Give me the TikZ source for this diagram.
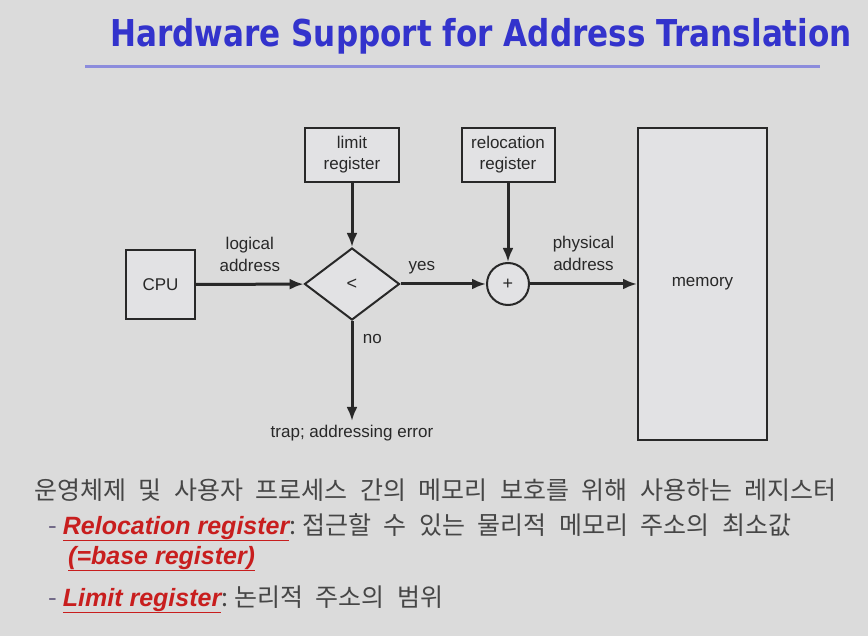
\documentclass[tikz,border=0pt]{standalone}
\usepackage{fontspec}
\setmainfont{Liberation Sans}
\newfontfamily\titlefont[FakeStretch=0.84]{DejaVu Sans}
\newfontfamily\korfont{Noto Sans CJK KR}
\usetikzlibrary{arrows.meta,shapes.geometric}

\definecolor{slidebg}{RGB}{219,219,219}
\definecolor{boxfill}{RGB}{226,226,228}
\definecolor{inkgrey}{RGB}{40,40,40}
\definecolor{titleblue}{RGB}{51,51,204}
\definecolor{rulelav}{RGB}{140,140,220}
\definecolor{noteRed}{RGB}{200,30,30}
\definecolor{notegrey}{RGB}{70,70,70}
\definecolor{dashgrey}{RGB}{100,90,125}

\newcommand{\korwide}{\spaceskip=12.5pt\relax}
\newcommand{\hotword}[1]{{\spaceskip=0pt\relax\rmfamily\fontsize{25}{28}\selectfont\bfseries\itshape\color{noteRed}\underline{#1}}}
\newcommand{\notedash}{\textcolor{dashgrey}{-}\hspace{6pt}}

\begin{document}
\begin{tikzpicture}[x=1pt,y=-1pt,
box/.style={draw=inkgrey,fill=boxfill,line width=2pt,align=center,font=\fontsize{17}{21}\selectfont,text=inkgrey},
test/.style={diamond,draw=inkgrey,fill=boxfill,line width=2pt,minimum width=95pt,minimum height=72pt,inner sep=0pt,aspect=1.3},
adder/.style={circle,draw=inkgrey,fill=boxfill,line width=2pt,minimum size=42pt,inner sep=0pt},
arrowlabel/.style={font=\fontsize{17}{22}\selectfont,align=center,text=inkgrey},
arrow/.style={-{Latex[length=14pt,width=11pt]},line width=3pt,draw=inkgrey},
note/.style={anchor=base west,inner sep=0pt,font=\korfont\fontsize{25}{28}\selectfont,text=notegrey} ]

\useasboundingbox (0,0) rectangle (868,636);

\fill[slidebg] (0,0) rectangle (868,636);

% title
\node[text=titleblue,font=\titlefont\bfseries\fontsize{37}{42}\selectfont](title) at (481,36) {Hardware Support for Address Translation};

\draw[rulelav,line width=3pt] (85,67) -- (820,67);

% diagram
\node[box,minimum width=69pt,minimum height=69pt](cpu) at (160.5,284.5) {CPU};

\node[box,minimum width=94pt,minimum height=54pt](limit) at (352,155) {limit\\register};

\node[box,minimum width=93pt,minimum height=54pt](reloc) at (508,155) {relocation\\register};

\node[test](cmp) at (352,284) {\fontsize{18}{18}\selectfont\textcolor{inkgrey}{<}};

\node[adder](plus) at (508,284) {\fontsize{18}{18}\selectfont\textcolor{inkgrey}{+}};

\node[box,minimum width=129pt,minimum height=312pt](mem) at (702.5,284) {memory};

\coordinate (trap) at (352,421);

\node[arrowlabel,anchor=north](traptext) at (352,422) {trap; addressing error};

\draw[arrow] (cpu) -- node[above=8pt, arrowlabel] {logical\\address} (cmp);

\draw[arrow] (cmp) -- node[above=5pt, arrowlabel, pos=0.25] {yes} (plus);

\draw[arrow] (plus) -- node[above=8pt, arrowlabel] {physical\\address} (mem);

\draw[arrow] (limit) -- (cmp);

\draw[arrow] (reloc) -- (plus);

\draw[arrow] (cmp) -- node[right=6pt, arrowlabel, pos=0.18] {no} (trap);

% notes
\node[note](line1) at (34,499) {\korwide 운영체제 및 사용자 프로세스 간의 메모리 보호를 위해 사용하는 레지스터};

\node[note](line2) at (48,534) {\korwide\notedash\hotword{Relocation register}:\hspace{6pt}접근할 수 있는 물리적 메모리 주소의 최소값};

\node[note](line3) at (68,564) {\hotword{(=base register)}};

\node[note](line4) at (48,606) {\korwide\notedash\hotword{Limit register}:\hspace{6pt}논리적 주소의 범위};

\end{tikzpicture}
\end{document}
